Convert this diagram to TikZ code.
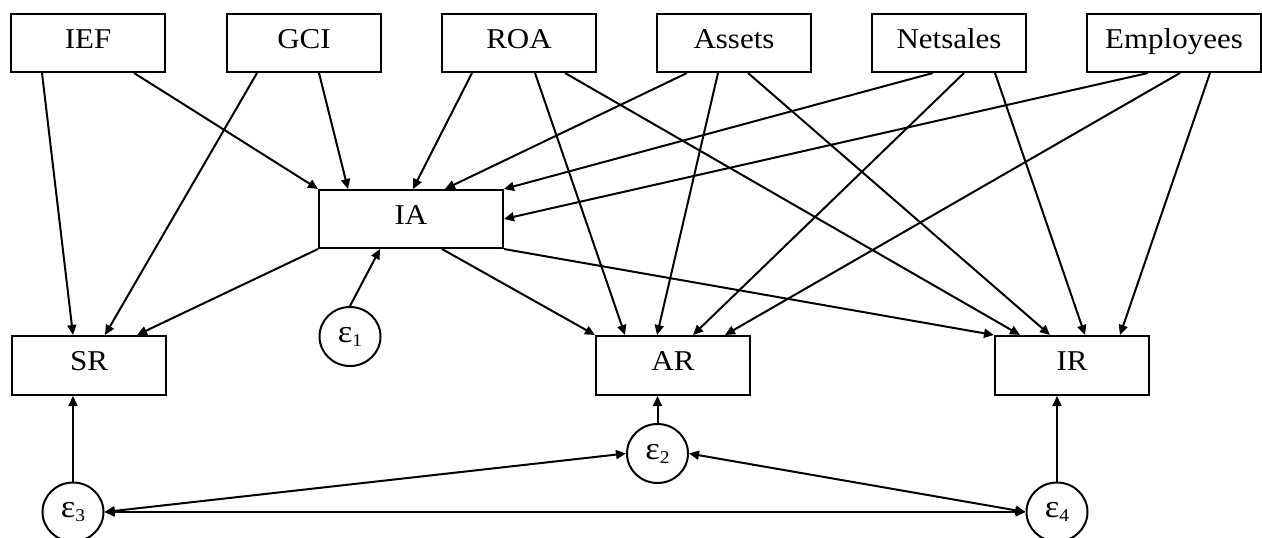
\documentclass[tikz,border=0pt]{standalone}
\usepackage{fontspec}
\setmainfont{Liberation Serif}[FakeStretch=1.08]
\usetikzlibrary{arrows.meta,shapes.geometric,calc}

% error term label: epsilon with a lowered index
\newcommand\errlabel[1]{{\fontsize{32}{32}\selectfont ε}\raisebox{-4pt}{\fontsize{18}{18}\selectfont #1}}

\begin{document}
\begin{tikzpicture}[x=1pt,y=-1pt,
  box/.style={draw,line width=2pt,minimum width=154pt,minimum height=58pt,
    inner sep=0pt,text height=20pt,text depth=10pt,font=\fontsize{28.7}{30}\selectfont},
  err/.style={draw,ellipse,line width=2pt,minimum width=61pt,minimum height=59pt,
    inner sep=0pt,font=\fontsize{28.7}{30}\selectfont},
  tip/.tip={Triangle[length=10pt,width=9pt]},
  link/.style={line width=2pt,-tip},
  cov/.style={line width=2pt,tip-tip}
]
\useasboundingbox (0,0) rectangle (1262,538);

% exogenous variables
\node[box] (IEF) at (88,43) {IEF};
\node[box] (GCI) at (304,43) {GCI};
\node[box] (ROA) at (519,43) {ROA};
\node[box] (Assets) at (734,43) {Assets};
\node[box] (Netsales) at (949,43) {Netsales};
\node[box,minimum width=174pt] (Employees) at (1174,43) {Employees};

% mediator and outcomes
\node[box,minimum width=184pt] (IA) at (411,219) {IA};
\node[box,minimum height=59pt] (SR) at (89,365.5) {SR};
\node[box,minimum height=59pt] (AR) at (673,365.5) {AR};
\node[box,minimum height=59pt] (IR) at (1072,365.5) {IR};

% error terms
\node[err] (e1) at (350,336.5) {\errlabel{1}};
\node[err] (e2) at (657.5,453.5) {\errlabel{2}};
\node[err] (e3) at (73,512) {\errlabel{3}};
\node[err] (e4) at (1057,512) {\errlabel{4}};

% paths from the exogenous variables
\draw[link] ([xshift=-46pt]IEF.south) -- ([xshift=-16pt]SR.north);
\draw[link] ([xshift=46pt]IEF.south) -- (IA.north west);
\draw[link] ([xshift=-47pt]GCI.south) -- ([xshift=16pt]SR.north);
\draw[link] ([xshift=15pt]GCI.south) -- ([xshift=-63pt]IA.north);
\draw[link] ([xshift=-47pt]ROA.south) -- ([xshift=2pt]IA.north);
\draw[link] ([xshift=16pt]ROA.south) -- ([xshift=-48pt]AR.north);
\draw[link] ([xshift=46pt]ROA.south) -- ([xshift=-52pt]IR.north);
\draw[link] ([xshift=-47pt]Assets.south) -- ([xshift=34pt]IA.north);
\draw[link] ([xshift=-16pt]Assets.south) -- ([xshift=-16pt]AR.north);
\draw[link] ([xshift=14pt]Assets.south) -- ([xshift=-22pt]IR.north);
\draw[link] ([xshift=-16pt]Netsales.south) -- (IA.north east);
\draw[link] ([xshift=15pt]Netsales.south) -- ([xshift=20pt]AR.north);
\draw[link] ([xshift=46pt]Netsales.south) -- ([xshift=13pt]IR.north);
\draw[link] ([xshift=-26pt]Employees.south) -- (IA.east);
\draw[link] ([xshift=6pt]Employees.south) -- ([xshift=52pt]AR.north);
\draw[link] ([xshift=36pt]Employees.south) -- ([xshift=48pt]IR.north);

% paths from the mediator
\draw[link] (IA.south west) -- ([xshift=48pt]SR.north);
\draw[link] ([xshift=31pt]IA.south) -- (AR.north west);
\draw[link] (IA.south east) -- (IR.north west);

% error terms to their variables
\draw[link] (e1.north) -- ([xshift=-31pt]IA.south);
\draw[link] (e2.north) -- (e2.north |- AR.south);
\draw[link] (e3.north) -- (e3.north |- SR.south);
\draw[link] (e4.north) -- (e4.north |- IR.south);

% error covariances
\draw[cov] (e3.east) -- (e2.west);
\draw[cov] (e3.east) -- (e4.west);
\draw[cov] (e2.east) -- (e4.west);
\end{tikzpicture}
\end{document}
